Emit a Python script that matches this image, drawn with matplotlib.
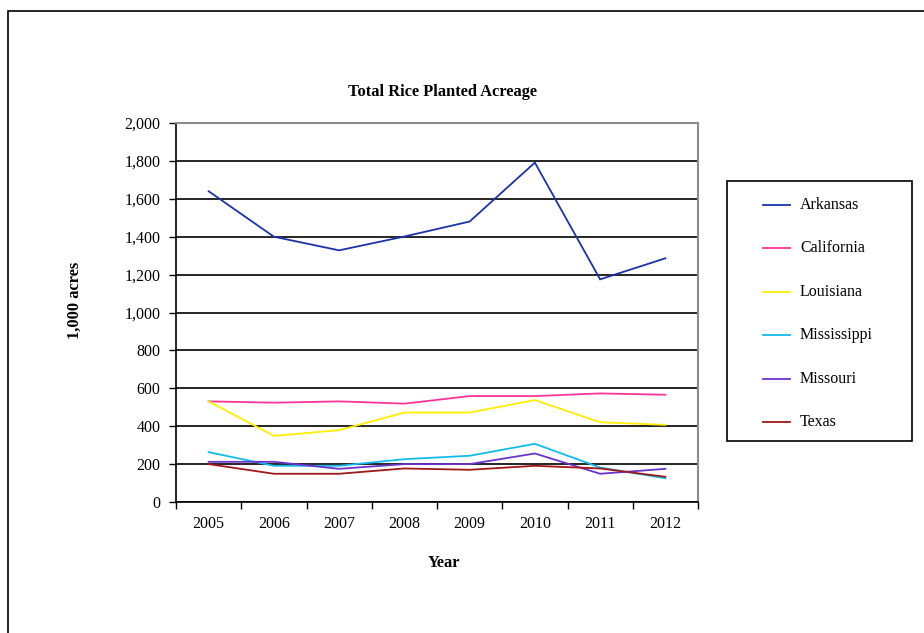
import numpy as np
import matplotlib
matplotlib.use("Agg")
import matplotlib.pyplot as plt
import matplotlib.patches as patches
from matplotlib.lines import Line2D
from matplotlib.ticker import FuncFormatter, FixedLocator

plt.rcParams['font.family'] = ['Liberation Serif', 'DejaVu Serif']

years = ['2005', '2006', '2007', '2008', '2009', '2010', '2011', '2012']
states = ['Arkansas', 'California', 'Louisiana', 'Mississippi', 'Missouri', 'Texas']
colors = ['#1a33a8', '#ff3399', '#ffee00', '#11bbee', '#6a33cc', '#a01818']

# planted acreage, 1,000 acres
arkansas = [1640, 1400, 1328, 1401, 1480, 1791, 1175, 1286]
california = [531, 524, 531, 519, 559, 559, 573, 566]
louisiana = [531, 349, 379, 472, 472, 538, 421, 407]
mississippi = [263, 191, 191, 226, 244, 307, 182, 125]
missouri = [212, 212, 175, 200, 200, 256, 149, 175]
texas = [200, 149, 149, 177, 170, 191, 177, 133]
series = [arkansas, california, louisiana, mississippi, missouri, texas]

fig = plt.figure(figsize=(9.24, 6.33), dpi=100)
ax = fig.add_axes([176/924, 131/633, 522/924, 379/633])

x = np.arange(len(years))
for vals, c in zip(series, colors):
    ax.plot(x, vals, color=c, lw=1.3, solid_joinstyle='miter')

ax.set_xlim(-0.5, len(years) - 0.5)
ax.set_ylim(0, 2000)
ax.set_yticks(np.arange(0, 2001, 200))
ax.yaxis.set_major_formatter(FuncFormatter(lambda v, p: f'{int(v):,}'))
ax.yaxis.grid(True, color='black', lw=1.2)
ax.set_axisbelow(True)

# tick marks between categories, labels centred on them
ax.xaxis.set_major_locator(FixedLocator(np.arange(-0.5, len(years), 1.0)))
ax.xaxis.set_minor_locator(FixedLocator(x))
ax.set_xticklabels([])
ax.set_xticklabels(years, minor=True)
ax.tick_params(axis='x', which='major', length=5, width=1, direction='out')
ax.tick_params(axis='x', which='minor', length=0, pad=10, labelsize=11.5)
ax.tick_params(axis='y', length=5, width=1, direction='out', pad=6, labelsize=11.5)

for side in ['top', 'right']:
    ax.spines[side].set_color('#8c8c8c')
    ax.spines[side].set_linewidth(1.5)
ax.spines['left'].set_linewidth(1.2)
ax.spines['bottom'].set_linewidth(1.2)

fig.text(442/924, 1 - 92/633, 'Total Rice Planted Acreage', ha='center', va='center',
         fontsize=11.8, fontweight='bold')
fig.text(75/924, 1 - 300/633, '1,000 acres', rotation=90, ha='center', va='center',
         fontsize=11.8, fontweight='bold')
fig.text(444/924, 1 - 563/633, 'Year', ha='center', va='center',
         fontsize=11.8, fontweight='bold')

# outer chart border, running off the right and bottom edges
fig.add_artist(patches.Rectangle((8/924, -0.05), 1.0, 1.05 - 11/633,
                                 transform=fig.transFigure, fill=False,
                                 edgecolor='black', lw=1.2))

# legend box
fig.add_artist(patches.Rectangle((727/924, 1 - 441/633), 185/924, 260/633,
                                 transform=fig.transFigure, fill=False,
                                 edgecolor='black', lw=1.2))
for i, (name, c) in enumerate(zip(states, colors)):
    yy = 1 - (205 + i * 43.4) / 633
    fig.add_artist(Line2D([763/924, 790/924], [yy, yy], transform=fig.transFigure,
                          color=c, lw=1.3))
    fig.text(800/924, yy, name, ha='left', va='center', fontsize=11.5)

fig.savefig('out.png', dpi=100)
